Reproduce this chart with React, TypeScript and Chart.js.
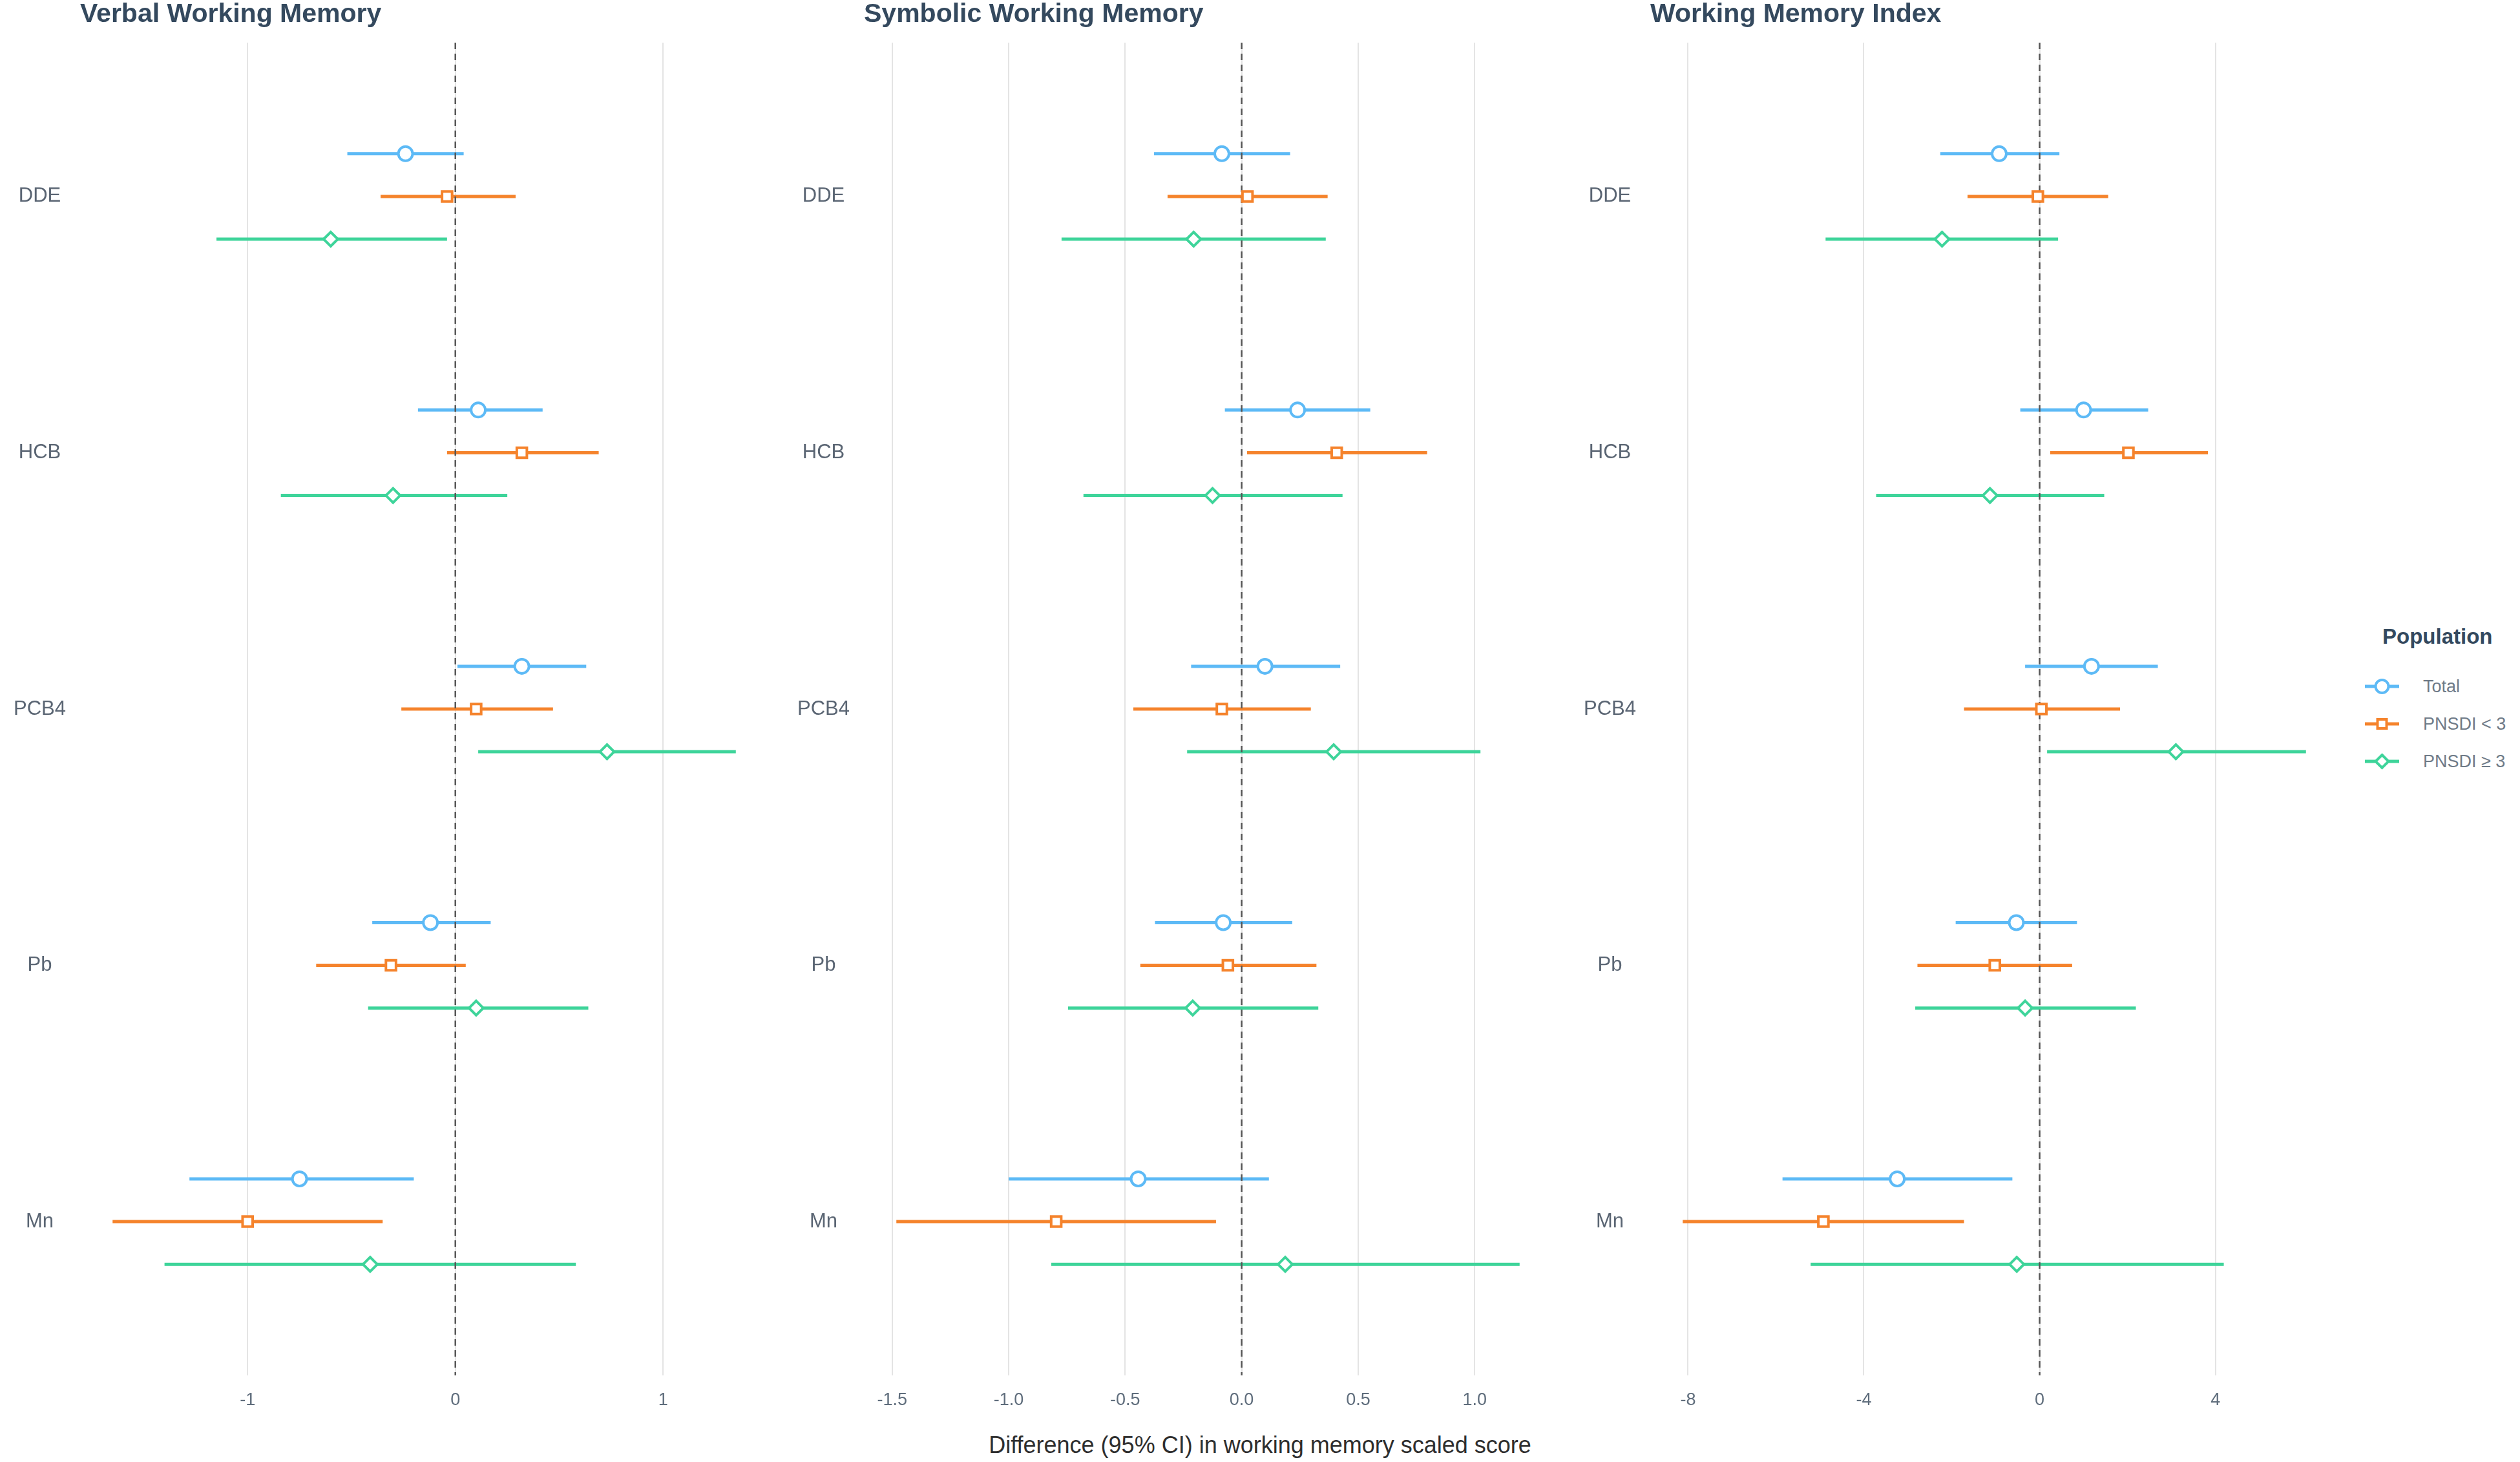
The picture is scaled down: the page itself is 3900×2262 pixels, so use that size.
import React, { useEffect, useRef } from 'react';
import { Chart, registerables } from 'chart.js';

Chart.register(...registerables);

// ---------- data ----------
const categories = ['DDE', 'HCB', 'PCB4', 'Pb', 'Mn'];
const groupLabels = ['Total', 'PNSDI < 3', 'PNSDI ≥ 3'];
const groupColors = ['#5DBAF6', '#F5832C', '#3ED49A'];
const groupMarkers = ['circle', 'rect', 'rectRot'];
const groupOffsets = [-1 / 6, 0, 1 / 6];

// Verbal Working Memory
const verbalTotalEst = [-0.24, 0.11, 0.32, -0.12, -0.75];
const verbalTotalLow = [-0.52, -0.18, 0.01, -0.40, -1.28];
const verbalTotalHigh = [0.04, 0.42, 0.63, 0.17, -0.20];
const verbalLt3Est = [-0.04, 0.32, 0.10, -0.31, -1.00];
const verbalLt3Low = [-0.36, -0.04, -0.26, -0.67, -1.65];
const verbalLt3High = [0.29, 0.69, 0.47, 0.05, -0.35];
const verbalGe3Est = [-0.60, -0.30, 0.73, 0.10, -0.41];
const verbalGe3Low = [-1.15, -0.84, 0.11, -0.42, -1.40];
const verbalGe3High = [-0.04, 0.25, 1.35, 0.64, 0.58];
const verbalTicks = [-1, 0, 1];
const verbalTickLabels = ['-1', '0', '1'];

// Symbolic Working Memory
const symbolicTotalEst = [-0.085, 0.24, 0.10, -0.079, -0.444];
const symbolicTotalLow = [-0.376, -0.072, -0.217, -0.372, -1.0];
const symbolicTotalHigh = [0.208, 0.552, 0.423, 0.217, 0.117];
const symbolicLt3Est = [0.025, 0.408, -0.085, -0.059, -0.796];
const symbolicLt3Low = [-0.318, 0.023, -0.465, -0.435, -1.482];
const symbolicLt3High = [0.369, 0.796, 0.297, 0.321, -0.11];
const symbolicGe3Est = [-0.206, -0.125, 0.395, -0.21, 0.187];
const symbolicGe3Low = [-0.773, -0.679, -0.234, -0.745, -0.817];
const symbolicGe3High = [0.361, 0.433, 1.025, 0.329, 1.193];
const symbolicTicks = [-1.5, -1, -0.5, 0, 0.5, 1];
const symbolicTickLabels = ['-1.5', '-1.0', '-0.5', '0.0', '0.5', '1.0'];

// Working Memory Index
const indexTotalEst = [-0.92, 1.0, 1.18, -0.53, -3.24];
const indexTotalLow = [-2.26, -0.44, -0.33, -1.91, -5.85];
const indexTotalHigh = [0.45, 2.47, 2.69, 0.85, -0.62];
const indexLt3Est = [-0.04, 2.02, 0.04, -1.02, -4.92];
const indexLt3Low = [-1.64, 0.24, -1.72, -2.78, -8.12];
const indexLt3High = [1.56, 3.83, 1.83, 0.74, -1.72];
const indexGe3Est = [-2.22, -1.13, 3.10, -0.33, -0.52];
const indexGe3Low = [-4.87, -3.72, 0.17, -2.83, -5.21];
const indexGe3High = [0.42, 1.47, 6.06, 2.19, 4.19];
const indexTicks = [-8, -4, 0, 4];
const indexTickLabels = ['-8', '-4', '0', '4'];

// ---------- layout ----------
const PLOT_W = 1061;
const YAXIS_W = 126;
const PAD_R = 4;
const PLOT_TOP = 66;
const XAXIS_H = 80;
const CANVAS_H = 2208;
const FONT = '"Liberation Sans", Arial, Helvetica, sans-serif';
const TITLE_COLOR = '#34495e';
const TICK_COLOR = '#5f6d7c';

type PanelProps = {
  title: string;
  est: number[][];
  low: number[][];
  high: number[][];
  ticks: number[];
  tickLabels: string[];
  plotLeft: number;
};

function Panel({ title, est, low, high, ticks, tickLabels, plotLeft }: PanelProps) {
  const ref = useRef<HTMLCanvasElement | null>(null);

  useEffect(() => {
    if (!ref.current) return;
    const all = [...low.flat(), ...high.flat()];
    const dmin = Math.min(...all);
    const dmax = Math.max(...all);
    const span = dmax - dmin;
    const xMin = dmin - span * 0.05;
    const xMax = dmax + span * 0.05;
    const yMin = -0.6;
    const yMax = categories.length - 1 + 0.6;

    const datasets: any[] = [];
    // point estimates (top)
    for (let g = 0; g < 3; g++) {
      datasets.push({
        label: groupLabels[g],
        data: est[g].map((v, c) => ({ x: v, y: c + groupOffsets[g] })),
        pointStyle: groupMarkers[g],
        pointRadius: 11,
        pointHoverRadius: 11,
        pointBorderWidth: 4,
        pointBackgroundColor: '#ffffff',
        pointBorderColor: groupColors[g],
        showLine: false,
        order: 0,
      });
    }
    // zero reference line
    datasets.push({
      label: 'zero',
      data: [
        { x: 0, y: yMin },
        { x: 0, y: yMax },
      ],
      showLine: true,
      borderColor: '#555555',
      borderWidth: 2.5,
      borderDash: [10, 7],
      pointRadius: 0,
      order: 1,
    });
    // confidence intervals
    for (let g = 0; g < 3; g++) {
      for (let c = 0; c < categories.length; c++) {
        datasets.push({
          label: groupLabels[g] + ' CI ' + categories[c],
          data: [
            { x: low[g][c], y: c + groupOffsets[g] },
            { x: high[g][c], y: c + groupOffsets[g] },
          ],
          showLine: true,
          borderColor: groupColors[g],
          borderWidth: 5,
          borderCapStyle: 'butt',
          pointRadius: 0,
          order: 2,
        });
      }
    }

    const chart = new Chart(ref.current, {
      type: 'scatter',
      data: { datasets },
      options: {
        animation: false,
        responsive: false,
        maintainAspectRatio: false,
        devicePixelRatio: 1,
        layout: { autoPadding: false, padding: { top: PLOT_TOP, right: PAD_R, left: 0, bottom: 0 } },
        plugins: {
          legend: { display: false },
          tooltip: { enabled: false },
          title: { display: false },
        },
        scales: {
          x: {
            type: 'linear',
            min: xMin,
            max: xMax,
            afterBuildTicks: (scale: any) => {
              scale.ticks = ticks.map((v) => ({ value: v }));
            },
            afterFit: (scale: any) => {
              scale.height = XAXIS_H;
            },
            grid: {
              display: true,
              color: '#e4e4e4',
              lineWidth: 2,
              drawTicks: false,
            },
            border: { display: false },
            ticks: {
              autoSkip: false,
              maxRotation: 0,
              padding: 22,
              color: TICK_COLOR,
              font: { family: FONT, size: 27 },
              callback: (v: any) => {
                const i = ticks.indexOf(Number(v));
                return i >= 0 ? tickLabels[i] : '';
              },
            },
          },
          y: {
            type: 'linear',
            min: yMin,
            max: yMax,
            reverse: true,
            afterBuildTicks: (scale: any) => {
              scale.ticks = categories.map((_, i) => ({ value: i }));
            },
            afterFit: (scale: any) => {
              scale.width = YAXIS_W;
            },
            grid: { display: false, drawTicks: false },
            border: { display: false },
            ticks: {
              autoSkip: false,
              padding: 24,
              crossAlign: 'center',
              color: '#5a6573',
              font: { family: FONT, size: 31 },
              callback: (v: any) => categories[Number(v)] ?? '',
            },
          },
        },
      } as any,
    });
    return () => chart.destroy();
  }, []);

  const canvasW = YAXIS_W + PLOT_W + PAD_R;
  return (
    <>
      <canvas
        ref={ref}
        width={canvasW}
        height={CANVAS_H}
        style={{
          position: 'absolute',
          left: plotLeft - YAXIS_W,
          top: 0,
          width: canvasW,
          height: CANVAS_H,
        }}
      />
      <div
        style={{
          position: 'absolute',
          left: plotLeft - 2,
          top: 0,
          fontSize: 41,
          lineHeight: '41px',
          fontWeight: 'bold',
          color: TITLE_COLOR,
          whiteSpace: 'nowrap',
        }}
      >
        {title}
      </div>
    </>
  );
}

function LegendMarker({ g }: { g: number }) {
  const c = groupColors[g];
  return (
    <svg width={61} height={30} style={{ position: 'absolute', left: 0, top: 0 }}>
      <line x1={4} x2={57} y1={15} y2={15} stroke={c} strokeWidth={5} />
      {g === 0 && <circle cx={30.5} cy={15} r={10} fill="#fff" stroke={c} strokeWidth={4} />}
      {g === 1 && <rect x={23.5} y={8} width={14} height={14} fill="#fff" stroke={c} strokeWidth={4} />}
      {g === 2 && (
        <polygon points="30.5,5 40.5,15 30.5,25 20.5,15" fill="#fff" stroke={c} strokeWidth={4} />
      )}
    </svg>
  );
}

export default function App() {
  useEffect(() => {
    document.body.style.margin = '0';
  }, []);

  const legendRows = [1062, 1120, 1178];

  return (
    <div
      style={{
        position: 'absolute',
        left: 0,
        top: 0,
        width: 3900,
        height: 2262,
        background: '#ffffff',
        fontFamily: FONT,
        overflow: 'hidden',
      }}
    >
      <Panel
        title="Verbal Working Memory"
        est={[verbalTotalEst, verbalLt3Est, verbalGe3Est]}
        low={[verbalTotalLow, verbalLt3Low, verbalGe3Low]}
        high={[verbalTotalHigh, verbalLt3High, verbalGe3High]}
        ticks={verbalTicks}
        tickLabels={verbalTickLabels}
        plotLeft={126}
      />
      <Panel
        title="Symbolic Working Memory"
        est={[symbolicTotalEst, symbolicLt3Est, symbolicGe3Est]}
        low={[symbolicTotalLow, symbolicLt3Low, symbolicGe3Low]}
        high={[symbolicTotalHigh, symbolicLt3High, symbolicGe3High]}
        ticks={symbolicTicks}
        tickLabels={symbolicTickLabels}
        plotLeft={1339}
      />
      <Panel
        title="Working Memory Index"
        est={[indexTotalEst, indexLt3Est, indexGe3Est]}
        low={[indexTotalLow, indexLt3Low, indexGe3Low]}
        high={[indexTotalHigh, indexLt3High, indexGe3High]}
        ticks={indexTicks}
        tickLabels={indexTickLabels}
        plotLeft={2556}
      />

      <div
        style={{
          position: 'absolute',
          left: 0,
          width: 3900,
          top: 2218,
          textAlign: 'center',
          fontSize: 36,
          lineHeight: '36px',
          color: '#2e2e2e',
        }}
      >
        Difference (95% CI) in working memory scaled score
      </div>

      <div
        style={{
          position: 'absolute',
          left: 3687,
          top: 968,
          fontSize: 33,
          lineHeight: '34px',
          fontWeight: 'bold',
          color: TITLE_COLOR,
          whiteSpace: 'nowrap',
        }}
      >
        Population
      </div>
      {groupLabels.map((lab, g) => (
        <div
          key={lab}
          style={{ position: 'absolute', left: 3656, top: legendRows[g] - 15, width: 240, height: 30 }}
        >
          <LegendMarker g={g} />
          <div
            style={{
              position: 'absolute',
              left: 94,
              top: 1.5,
              fontSize: 27,
              lineHeight: '27px',
              color: '#6f7b88',
              whiteSpace: 'nowrap',
            }}
          >
            {lab}
          </div>
        </div>
      ))}
    </div>
  );
}
